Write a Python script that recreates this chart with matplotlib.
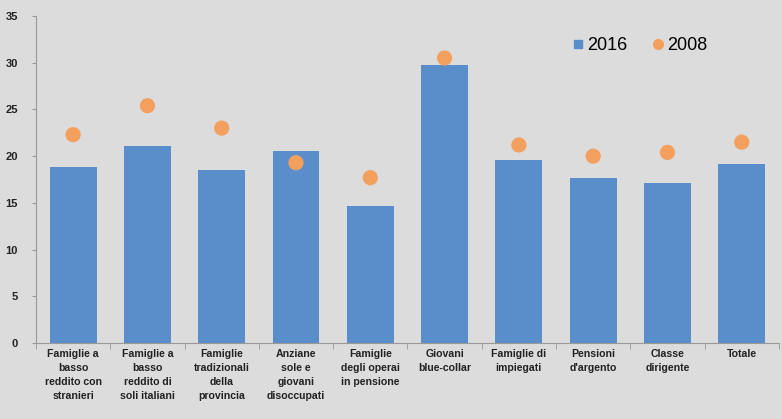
import numpy as np
import matplotlib.pyplot as plt
from matplotlib.lines import Line2D

plt.rcParams['font.family'] = ['Liberation Sans', 'DejaVu Sans']

# dati
categorie = ['Famiglie a\nbasso\nreddito con\nstranieri', 'Famiglie a\nbasso\nreddito di\nsoli italiani',
             'Famiglie\ntradizionali\ndella\nprovincia', 'Anziane\nsole e\ngiovani\ndisoccupati',
             'Famiglie\ndegli operai\nin pensione', 'Giovani\nblue-collar', 'Famiglie di\nimpiegati',
             'Pensioni\nd\'argento', 'Classe\ndirigente', 'Totale']
valori_2016 = [18.8, 21.1, 18.5, 20.6, 14.7, 29.7, 19.6, 17.7, 17.1, 19.2]
valori_2008 = [22.3, 25.4, 23.0, 19.3, 17.7, 30.5, 21.2, 20.0, 20.4, 21.5]

bg = '#dcdcdc'
blu = '#5a8ecb'
arancio = '#f3a05e'
fig = plt.figure(figsize=(7.82, 4.19), dpi=100, facecolor=bg)
ax = fig.add_axes([0.046, 0.181, 0.95, 0.781], facecolor=bg)

x = np.arange(len(categorie))
ax.bar(x, valori_2016, width=0.63, color=blu, zorder=2)
ax.scatter(x, valori_2008, s=120, color=arancio, zorder=3, edgecolors='none')

ax.set_xlim(-0.5, len(categorie) - 0.5)
ax.set_ylim(0, 35)
ax.set_yticks(range(0, 36, 5))
ax.set_xticks(x)
ax.set_xticklabels(categorie, fontsize=7.6, fontweight='bold', linespacing=1.5, color='#222222')
for t in ax.get_yticklabels():
    t.set_fontweight('bold')
ax.tick_params(axis='y', labelsize=8, length=3, color='#999999', pad=10, labelcolor='#222222')
ax.set_xticks(np.arange(len(categorie) + 1) - 0.5, minor=True)
ax.tick_params(axis='x', which='minor', length=4, color='#999999')
ax.tick_params(axis='x', which='major', length=0, pad=4)

for s in ['top', 'right']:
    ax.spines[s].set_visible(False)
ax.spines['left'].set_color('#999999')
ax.spines['bottom'].set_color('#999999')

handles = [Line2D([], [], marker='s', linestyle='none', color=blu, markersize=6),
           Line2D([], [], marker='o', linestyle='none', color=arancio, markersize=7)]
ax.legend(handles, ['2016', '2008'], loc='upper right', bbox_to_anchor=(0.925, 0.985), ncol=2,
          frameon=False, fontsize=13, handletextpad=0.0, columnspacing=1.2, handlelength=1.0)

fig.savefig('out.png', dpi=100, facecolor=bg)
